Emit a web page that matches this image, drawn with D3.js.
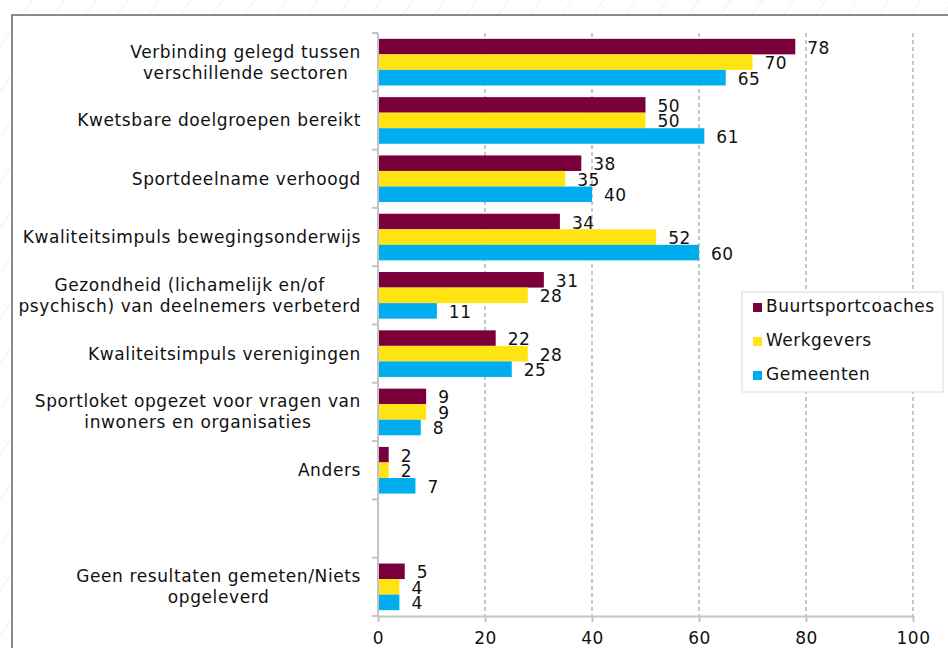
<!DOCTYPE html>
<html>
<head>
    <title>Resultaten per doelgroep</title>
    <script src="https://d3js.org/d3.v7.min.js"></script>
    <style>
        body { margin: 0; background: #fff; }
        text { font-family: "DejaVu Sans", sans-serif; fill: #111; }
        .grid line { stroke: #c8c8c8; stroke-width: 2px; stroke-dasharray: 4,3; }
        .axis path, .axis line { stroke: #c4c4c4; stroke-width: 2px; }
    </style>
</head>
<body>
<script>
    // categories (empty string = gap row), "\n" splits a label in two lines
    var categories = [
        "Verbinding gelegd tussen\nverschillende sectoren",
        "Kwetsbare doelgroepen bereikt",
        "Sportdeelname verhoogd",
        "Kwaliteitsimpuls bewegingsonderwijs",
        "Gezondheid (lichamelijk en/of\npsychisch) van deelnemers verbeterd",
        "Kwaliteitsimpuls verenigingen",
        "Sportloket opgezet voor vragen van\ninwoners en organisaties",
        "Anders",
        "",
        "Geen resultaten gemeten/Niets\nopgeleverd"
    ];
    var seriesNames = ["Buurtsportcoaches", "Werkgevers", "Gemeenten"];
    var buurtsportcoaches = [78, 50, 38, 34, 31, 22, 9, 2, null, 5];
    var werkgevers = [70, 50, 35, 52, 28, 28, 9, 2, null, 4];
    var gemeenten = [65, 61, 40, 60, 11, 25, 8, 7, null, 4];
    var xTicks = [0, 20, 40, 60, 80, 100];
    var colors = ["#7a003c", "#ffe312", "#00aeef"];

    var width = 948, height = 648;
    var seriesValues = [buurtsportcoaches, werkgevers, gemeenten];

    var svg = d3.select("body").append("svg")
        .attr("width", width)
        .attr("height", height);

    // faint diagonal hatch behind the frame
    var pat = svg.append("defs").append("pattern")
        .attr("id", "hatch")
        .attr("patternUnits", "userSpaceOnUse")
        .attr("width", 26)
        .attr("height", 26)
        .attr("patternTransform", "rotate(35)");
    pat.append("line")
        .attr("x1", 0).attr("y1", 0)
        .attr("x2", 0).attr("y2", 26)
        .attr("stroke", "#ececec")
        .attr("stroke-width", 1.5);
    svg.append("rect")
        .attr("width", width).attr("height", height)
        .attr("fill", "url(#hatch)");

    svg.append("rect")
        .attr("x", 12).attr("y", 15)
        .attr("width", width + 20).attr("height", height + 20)
        .attr("fill", "#fff")
        .attr("stroke", "#8a8a8a")
        .attr("stroke-width", 2);

    var plotL = 378, plotR = 913, plotT = 33, plotB = 616;

    var x = d3.scaleLinear().domain([0, 100]).range([plotL, plotR]);
    var y = d3.scaleBand()
        .domain(d3.range(categories.length))
        .range([plotT, plotB])
        .paddingInner(0.2)
        .paddingOuter(0.1);
    var ySub = d3.scaleBand()
        .domain(d3.range(seriesNames.length))
        .range([0, y.bandwidth()]);

    // dashed gridlines
    svg.append("g")
        .attr("class", "grid")
        .selectAll("line")
        .data(xTicks.slice(1))
        .enter()
        .append("line")
        .attr("x1", d => x(d)).attr("x2", d => x(d))
        .attr("y1", plotT).attr("y2", plotB);

    // bars
    var groups = svg.append("g")
        .selectAll("g")
        .data(categories.map((c, i) => i))
        .enter()
        .append("g")
        .attr("transform", i => "translate(0," + y(i) + ")");

    groups.selectAll("rect")
        .data(i => seriesValues.map((s, k) => ({k: k, v: s[i]})).filter(d => d.v != null))
        .enter()
        .append("rect")
        .attr("x", x(0))
        .attr("y", d => ySub(d.k))
        .attr("width", d => x(d.v) - x(0))
        .attr("height", ySub.bandwidth())
        .attr("fill", d => colors[d.k]);

    groups.selectAll("text.val")
        .data(i => seriesValues.map((s, k) => ({k: k, v: s[i]})).filter(d => d.v != null))
        .enter()
        .append("text")
        .attr("class", "val")
        .attr("x", d => x(d.v) + 12)
        .attr("y", d => ySub(d.k) + ySub.bandwidth() / 2 + 7)
        .style("font-size", "17px")
        .style("letter-spacing", "0.5px")
        .text(d => d.v);

    // category axis (Excel style: ticks between categories)
    var step = y.step();
    var yAxis = svg.append("g").attr("class", "axis");
    yAxis.append("line")
        .attr("x1", plotL).attr("x2", plotL)
        .attr("y1", plotT).attr("y2", plotB);
    yAxis.selectAll("line.tick")
        .data(d3.range(categories.length + 1))
        .enter()
        .append("line")
        .attr("class", "tick")
        .attr("x1", plotL - 6).attr("x2", plotL)
        .attr("y1", i => plotT + i * step).attr("y2", i => plotT + i * step);

    // category labels, lines centred on each other, block right aligned
    var labelRight = 361;
    categories.forEach(function (c, i) {
        if (!c) return;
        var lines = c.split("\n");
        var cy = y(i) + y.bandwidth() / 2 + 6 - (lines.length - 1) * 10.5;
        var t = svg.append("text")
            .style("font-size", "17px")
            .style("letter-spacing", "0.6px")
            .attr("text-anchor", "middle");
        lines.forEach(function (l, j) {
            t.append("tspan").attr("x", 0).attr("y", cy + j * 21).text(l);
        });
        var w = d3.max(t.selectAll("tspan").nodes(), n => n.getComputedTextLength());
        t.selectAll("tspan").attr("x", labelRight - w / 2);
    });

    // value axis
    var xAxis = svg.append("g")
        .attr("class", "axis")
        .attr("transform", "translate(0," + plotB + ")")
        .call(d3.axisBottom(x).tickValues(xTicks).tickSize(6).tickSizeOuter(0).tickPadding(10));
    xAxis.selectAll("text")
        .style("font-size", "17px")
        .style("letter-spacing", "0.5px")
        .style("font-family", "DejaVu Sans, sans-serif")
        .attr("fill", "#111");

    // legend
    var legend = svg.append("g");
    legend.append("rect")
        .attr("x", 742).attr("y", 292)
        .attr("width", 201).attr("height", 100)
        .attr("fill", "#fff")
        .attr("stroke", "#d9d9d9");
    var items = legend.selectAll("g")
        .data(seriesNames)
        .enter()
        .append("g")
        .attr("transform", (d, i) => "translate(753," + (312 + i * 34) + ")");
    items.append("rect")
        .attr("x", 0).attr("y", -9)
        .attr("width", 9).attr("height", 9)
        .attr("fill", (d, i) => colors[i]);
    items.append("text")
        .attr("x", 13)
        .style("font-size", "17px")
        .style("letter-spacing", "0.5px")
        .text(d => d);
</script>
</body>
</html>
